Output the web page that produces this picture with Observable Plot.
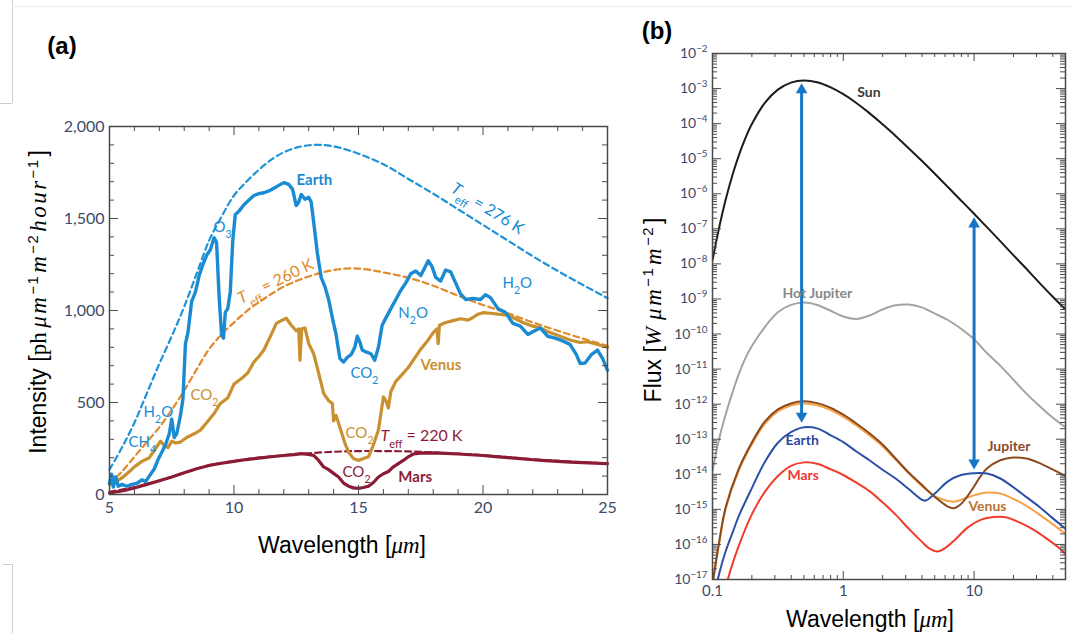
<!DOCTYPE html>
<html><head><meta charset="utf-8">
<script src="https://cdn.jsdelivr.net/npm/d3@7"></script>
<script src="https://cdn.jsdelivr.net/npm/@observablehq/plot@0.6"></script>
<style>
html,body{margin:0;padding:0;background:#fff;}
#wrap{position:relative;width:1072px;height:633px;overflow:hidden;background:#fff;font-family:"Liberation Sans",Arial,sans-serif;color:#000;}
#wrap svg{position:absolute;top:0;}
.lbl{position:absolute;white-space:nowrap;transform:translate(-50%,-50%);line-height:1;}
.m{font-family:"Liberation Serif","DejaVu Serif",serif;font-style:italic;}
.r{font-family:"Liberation Serif","DejaVu Serif",serif;}
.t .m{letter-spacing:2.5px;}
.t sup{letter-spacing:1.5px;padding-right:2px;}
.deco{position:absolute;background:#cdcdcd;}
sup{font-size:64%;vertical-align:0.55em;line-height:0;}
</style></head><body><div id="wrap"></div>
<script>
// ---------------- Panel (a) data: wavelength [µm] and intensity ----------------
const earthX = [5.0,5.08,5.15,5.25,5.35,5.5,5.7,5.9,6.1,6.3,6.45,6.6,6.8,6.95,7.1,7.25,7.4,7.5,7.6,7.7,7.85,7.95,8.05,8.15,8.3,8.45,8.6,8.75,8.9,9.05,9.2,9.3,9.4,9.5,9.58,9.65,9.75,9.85,9.95,10.05,10.2,10.4,10.6,10.8,11.0,11.2,11.4,11.6,11.8,12.0,12.2,12.35,12.5,12.6,12.7,12.85,13.0,13.1,13.2,13.35,13.5,13.65,13.8,13.95,14.1,14.25,14.4,14.55,14.7,14.85,14.95,15.05,15.15,15.3,15.5,15.65,15.8,15.95,16.1,16.3,16.5,16.7,16.9,17.1,17.3,17.5,17.65,17.8,17.95,18.1,18.3,18.5,18.7,18.9,19.1,19.3,19.6,19.9,20.1,20.3,20.6,20.9,21.2,21.5,21.8,22.0,22.3,22.6,22.9,23.2,23.5,23.75,23.9,24.1,24.35,24.6,24.8,25.0];
const earthY = [60,110,40,95,45,55,45,55,60,80,70,100,140,190,230,270,330,410,310,330,430,520,820,880,1050,1100,1190,1250,1300,1330,1395,1370,1080,870,850,990,1010,1100,1380,1520,1540,1575,1600,1625,1635,1640,1650,1665,1680,1695,1685,1660,1570,1590,1630,1605,1615,1590,1480,1310,1180,1130,1060,960,870,740,720,745,760,800,860,830,785,775,765,730,800,920,960,1010,1060,1110,1150,1200,1215,1190,1230,1270,1240,1180,1160,1220,1210,1150,1090,1060,1065,1060,1085,1070,1010,990,930,915,870,885,905,860,850,835,815,760,712,715,760,785,740,675];
const venusX = [5.0,5.2,5.5,5.8,6.0,6.3,6.6,6.85,7.05,7.2,7.35,7.5,7.65,7.85,8.1,8.4,8.65,8.9,9.2,9.45,9.75,10.0,10.3,10.55,10.8,11.0,11.2,11.5,11.7,11.9,12.1,12.3,12.5,12.6,12.65,12.72,12.85,13.0,13.2,13.4,13.6,13.8,13.95,14.0,14.1,14.3,14.45,14.6,14.8,15.0,15.2,15.4,15.6,15.8,16.0,16.1,16.2,16.3,16.5,16.8,17.0,17.2,17.5,17.8,18.0,18.15,18.2,18.25,18.5,18.8,19.1,19.4,19.6,19.8,20.0,20.3,20.6,21.0,21.3,21.6,22.0,22.3,22.7,23.1,23.5,23.9,24.2,24.6,25.0];
const venusY = [55,65,90,125,150,180,200,250,290,265,255,290,280,285,310,330,350,390,440,495,525,600,630,660,720,750,785,870,930,945,958,920,890,900,730,900,905,820,765,660,550,510,495,400,430,345,280,230,195,185,195,205,270,350,530,510,470,560,615,660,690,730,790,840,880,900,820,920,935,945,955,948,962,980,988,985,980,975,955,935,915,905,880,860,840,826,830,815,800];
const marsX = [5.0,5.3,5.6,6.0,6.5,7.0,7.5,8.0,8.5,9.0,9.5,10.0,10.5,11.0,11.5,12.0,12.4,12.7,13.0,13.2,13.4,13.6,13.8,14.0,14.2,14.4,14.6,14.8,15.0,15.2,15.4,15.6,15.8,16.0,16.2,16.4,16.6,16.8,17.0,17.2,17.5,18.0,18.5,19.0,19.5,20.0,20.5,21.0,21.5,22.0,22.5,23.0,23.5,24.0,24.5,25.0];
const marsY = [8,15,22,35,55,75,95,118,140,158,170,180,190,198,205,212,217,222,218,212,185,150,135,115,95,62,45,36,33,38,45,65,95,113,125,150,168,185,205,220,225,226,224,220,216,212,206,200,195,189,184,180,176,173,170,167];
const teff276X = [5,5.5,6,6.5,7,7.5,8,8.5,9,9.5,10,10.5,11,11.5,12,12.5,13,13.5,14,14.5,15,16,17,18,19,20,21,22,23,24,25];
const teff276Y = [135,255,390,550,710,860,1020,1200,1380,1510,1625,1700,1765,1820,1860,1885,1898,1900,1892,1875,1852,1795,1715,1635,1550,1465,1380,1295,1215,1140,1067];
const teff260X = [5,5.5,6,6.5,7,7.5,8,8.5,9,9.5,10,10.5,11,11.5,12,12.5,13,13.5,14,14.5,15,15.5,16,17,18,19,20,21,22,23,24,25];
const teff260Y = [55,125,205,285,365,460,565,680,790,870,935,995,1045,1090,1130,1160,1185,1205,1220,1228,1228,1220,1207,1178,1135,1080,1030,985,935,890,848,808];
const teff220X = [5,6,7,8,9,10,11,12,13,14,15,16,17,18,19,20,21,22,23,24,25];
const teff220Y = [15,40,75,118,158,182,200,213,224,232,236,236,234,228,222,214,203,192,183,175,170];
const aXTicks = [5,10,15,20,25];
const aYTicks = [0,500,1000,1500,2000];
// annotation labels (text, wavelength, intensity)
const aLabText = ["O_{3}","H_{2}O","CH_{4}","N_{2}O","CO_{2}","H_{2}O"];
const aLabX = [9.18,6.37,5.76,16.6,14.68,20.78];
const aLabY = [1451,446,283,984,658,1147];
const vLabText = ["CO_{2}","CO_{2}"];
const vLabX = [8.25,14.48];
const vLabY = [538,332];

// ---------------- Panel (b) data: log10 wavelength and log10 flux ----------------
const sunL = [-1.0,-0.95,-0.9,-0.85,-0.8,-0.75,-0.7,-0.6,-0.5,-0.4,-0.3,-0.2,-0.1,0,0.1,0.2,0.3,0.4,0.5,0.6,0.7,0.8,0.9,1.0,1.1,1.2,1.3,1.4,1.5,1.6,1.699];
const sunF = [-7.90,-6.98,-6.18,-5.50,-4.92,-4.43,-4.02,-3.41,-3.03,-2.83,-2.77,-2.82,-2.96,-3.16,-3.41,-3.70,-4.02,-4.35,-4.70,-5.06,-5.43,-5.81,-6.19,-6.57,-6.96,-7.35,-7.75,-8.14,-8.54,-8.93,-9.30];
const hotL = [-1.0,-0.95,-0.9,-0.85,-0.8,-0.75,-0.7,-0.6,-0.5,-0.4,-0.3,-0.2,-0.1,0,0.1,0.2,0.3,0.4,0.5,0.6,0.7,0.8,0.9,1.0,1.1,1.2,1.3,1.4,1.5,1.6,1.699];
const hotF = [-13.9,-13.0,-12.3,-11.7,-11.15,-10.7,-10.35,-9.8,-9.38,-9.17,-9.1,-9.17,-9.33,-9.5,-9.57,-9.47,-9.3,-9.18,-9.16,-9.24,-9.42,-9.6,-9.85,-10.15,-10.55,-10.9,-11.3,-11.7,-12.05,-12.38,-12.66];
const jupL = [-1.0,-0.95,-0.9,-0.8,-0.7,-0.6,-0.5,-0.4,-0.3,-0.2,-0.1,0,0.1,0.2,0.3,0.4,0.5,0.6,0.7,0.76,0.8,0.845,0.9,0.95,1.0,1.05,1.1,1.2,1.3,1.4,1.5,1.6,1.699];
const jupF = [-17.1,-15.95,-14.95,-13.85,-13.1,-12.5,-12.15,-11.98,-11.92,-11.97,-12.1,-12.3,-12.55,-12.83,-13.15,-13.55,-13.95,-14.3,-14.65,-14.82,-14.92,-14.97,-14.85,-14.62,-14.35,-14.05,-13.83,-13.6,-13.52,-13.55,-13.68,-13.86,-14.05];
const venL = jupL;
const venF = [-17.2,-16.0,-15.0,-13.9,-13.15,-12.56,-12.21,-12.04,-11.98,-12.03,-12.16,-12.36,-12.61,-12.89,-13.2,-13.58,-13.97,-14.33,-14.62,-14.72,-14.76,-14.78,-14.73,-14.66,-14.6,-14.55,-14.52,-14.55,-14.7,-14.9,-15.15,-15.42,-15.7];
const earL = [-0.97,-0.95,-0.9,-0.84,-0.8,-0.7,-0.6,-0.5,-0.4,-0.3,-0.2,-0.1,0,0.1,0.2,0.3,0.4,0.5,0.6,0.63,0.7,0.8,0.9,1.0,1.1,1.2,1.3,1.4,1.5,1.6,1.699];
const earF = [-17.2,-16.85,-16.2,-15.6,-15.2,-14.4,-13.65,-13.1,-12.8,-12.66,-12.69,-12.88,-13.08,-13.35,-13.6,-13.87,-14.12,-14.42,-14.72,-14.75,-14.55,-14.2,-14.02,-13.97,-13.98,-14.12,-14.37,-14.65,-14.93,-15.25,-15.55];
const marL = [-0.9,-0.885,-0.8,-0.7,-0.6,-0.5,-0.4,-0.3,-0.2,-0.1,0,0.1,0.2,0.3,0.4,0.5,0.6,0.66,0.72,0.78,0.85,0.95,1.05,1.15,1.25,1.35,1.45,1.55,1.65,1.699];
const marF = [-17.3,-17.03,-16.05,-15.15,-14.5,-14.05,-13.76,-13.66,-13.7,-13.85,-14.02,-14.24,-14.48,-14.8,-15.15,-15.55,-15.92,-16.12,-16.2,-16.1,-15.88,-15.52,-15.3,-15.22,-15.23,-15.38,-15.57,-15.82,-16.1,-16.28];
const arrowX = [0.48, 10];
const arrowTop = [1.4e-3, 2.1e-7];
const arrowBottom = [3.0e-13, 1.38e-14];
const bXTicks = [0.1, 1, 10, 50];
const bYExp = [-17,-16,-15,-14,-13,-12,-11,-10,-9,-8,-7,-6,-5,-4,-3,-2];
const bLabText = ["Sun","Hot Jupiter","Earth","Mars","Jupiter","Venus"];
const bLabX = [1.28,0.343,0.361,0.374,12.66,9.06];
const bLabLogY = [-3.11,-8.84,-13.03,-14.03,-13.21,-14.92];

// ---------------- helpers ----------------
const ser = (xs, ys) => xs.map((x, i) => ({x, y: ys[i]}));
const serLog = (ls, fs) => ls.map((l, i) => ({x: 10 ** l, y: 10 ** fs[i]}));
const tickCol = "#3e4a68";
const frameCol = "#4a4a4a";

function esc(s){return s.replace(/&/g,"&amp;").replace(/</g,"&lt;");}
function toTspans(s){
  const re = /([_^])\{([^}]*)\}|\*([^*]*)\*/g; let out = "", last = 0, m;
  while ((m = re.exec(s))) {
    out += esc(s.slice(last, m.index));
    if (m[3] !== undefined) out += `<tspan font-style="italic">${esc(m[3])}</tspan>`;
    else out += `<tspan baseline-shift="${m[1] === "_" ? "sub" : "super"}" font-size="70%">${esc(m[2])}</tspan>`;
    last = re.lastIndex;
  }
  return out + esc(s.slice(last));
}
function richify(svg){
  svg.querySelectorAll("text").forEach(t => {
    const els = t.querySelector("tspan") ? Array.from(t.querySelectorAll("tspan")) : [t];
    els.forEach(el => { const s = el.textContent; if (/[_^]\{|\*/.test(s)) el.innerHTML = toTspans(s); });
  });
}
function inTicksX(vals, len, H){
  return [Plot.ruleX(vals, {x: d => d, insetTop: H - len, stroke: frameCol, strokeWidth: 1}),
          Plot.ruleX(vals, {x: d => d, insetBottom: H - len, stroke: frameCol, strokeWidth: 1})];
}
function inTicksY(vals, len, W){
  return [Plot.ruleY(vals, {y: d => d, insetRight: W - len, stroke: frameCol, strokeWidth: 1}),
          Plot.ruleY(vals, {y: d => d, insetLeft: W - len, stroke: frameCol, strokeWidth: 1})];
}

// ---------------- Panel (a) ----------------
const cEarth = "#1a8bd2", cEarthD = "#1e93d8", cVenus = "#c8902e", cVenusD = "#e08a2c", cMars = "#8c1c36";
const WA = 498, HA = 368;
const minorXA = d3.range(6, 25).filter(v => v % 5 !== 0);
const majorXA = [10, 15, 20];
const minorYA = d3.range(100, 2000, 100).filter(v => v % 500 !== 0);
const majorYA = [500, 1000, 1500];
const font = "Lato, 'Noto Sans', 'DejaVu Sans', sans-serif";

const plotA = Plot.plot({
  width: 630, height: 633,
  marginLeft: 109, marginRight: 23, marginTop: 126, marginBottom: 139,
  x: {domain: [5, 25], label: null},
  y: {domain: [0, 2000], label: null},
  style: {fontFamily: font, background: "transparent", overflow: "visible"},
  marks: [
    Plot.line(ser(teff276X, teff276Y), {x: "x", y: "y", stroke: cEarthD, strokeWidth: 2.2, strokeDasharray: "6,4", curve: "catmull-rom"}),
    Plot.line(ser(teff260X, teff260Y), {x: "x", y: "y", stroke: cVenusD, strokeWidth: 2.2, strokeDasharray: "6,4", curve: "catmull-rom"}),
    Plot.line(ser(teff220X, teff220Y), {x: "x", y: "y", stroke: cMars, strokeWidth: 2.2, strokeDasharray: "6,4", curve: "catmull-rom"}),
    Plot.line(ser(marsX, marsY), {x: "x", y: "y", stroke: cMars, strokeWidth: 3.2, curve: "linear"}),
    Plot.line(ser(venusX, venusY), {x: "x", y: "y", stroke: cVenus, strokeWidth: 3.2, curve: "linear"}),
    Plot.line(ser(earthX, earthY), {x: "x", y: "y", stroke: cEarth, strokeWidth: 3.4, curve: "linear"}),
    ...inTicksX(minorXA, 5, HA), ...inTicksX(majorXA, 9, HA),
    ...inTicksY(minorYA, 5, WA), ...inTicksY(majorYA, 9, WA),
    Plot.frame({stroke: frameCol, strokeWidth: 1.5}),
    Plot.axisX({ticks: aXTicks, tickSize: 0, tickPadding: 7, fontSize: 16, color: tickCol, tickFormat: d => String(d), label: null}),
    Plot.axisY({ticks: aYTicks, tickSize: 0, tickPadding: 5, fontSize: 16, color: tickCol, tickFormat: d3.format(","), label: null}),
    Plot.text(ser(aLabX, aLabY), {x: "x", y: "y", text: (d, i) => aLabText[i], textAnchor: "start", fill: cEarth, fontSize: 15}),
    Plot.text(ser(vLabX, vLabY), {x: "x", y: "y", text: (d, i) => vLabText[i], textAnchor: "start", fill: cVenus, fontSize: 15}),
    Plot.text([{x: 14.36, y: 120}], {x: "x", y: "y", text: () => "CO_{2}", textAnchor: "start", fill: cMars, fontSize: 15}),
    Plot.text([{x: 12.51, y: 1707}], {x: "x", y: "y", text: () => "Earth", textAnchor: "start", fill: cEarth, fontSize: 15, fontWeight: "bold"}),
    Plot.text([{x: 17.49, y: 701}], {x: "x", y: "y", text: () => "Venus", textAnchor: "start", fill: cVenus, fontSize: 15, fontWeight: "bold"}),
    Plot.text([{x: 16.6, y: 92}], {x: "x", y: "y", text: () => "Mars", textAnchor: "start", fill: cMars, fontSize: 15, fontWeight: "bold"}),
    Plot.text([{x: 20.18, y: 1554}], {x: "x", y: "y", text: () => "*T*_{eff} = 276 K", fill: cEarth, fontSize: 16, rotate: 32}),
    Plot.text([{x: 11.67, y: 1158}], {x: "x", y: "y", text: () => "*T*_{eff} = 260 K", fill: cVenusD, fontSize: 16, rotate: -26}),
    Plot.text([{x: 15.88, y: 321}], {x: "x", y: "y", text: () => "*T*_{eff} = 220 K", textAnchor: "start", fill: cMars, fontSize: 16})
  ]
});
plotA.style.left = "0px";
richify(plotA);

// ---------------- Panel (b) ----------------
const WB = 353, HB = 526;
const minorXB = [0.2,0.3,0.4,0.5,0.6,0.7,0.8,0.9,2,3,4,5,6,7,8,9,20,30,40];
const majorXB = [1, 10];
const majorYB = bYExp.map(e => 10 ** e);
const minorYB = d3.range(-17, -2).flatMap(e => d3.range(2, 10).map(m => m * 10 ** e));
const cSun = "#1c1c1c", cHot = "#a3a3a3", cJup = "#8a4a1e", cVen = "#f7a249", cEar = "#2c50a8", cMar = "#f23b2c", cArr = "#1775c6";

const plotB = Plot.plot({
  width: 442, height: 633,
  marginLeft: 82, marginRight: 7, marginTop: 53, marginBottom: 54,
  x: {type: "log", domain: [0.1, 50], label: null},
  y: {type: "log", domain: [1e-17, 1e-2], label: null},
  style: {fontFamily: font, background: "transparent", overflow: "visible"},
  marks: [
    Plot.line(serLog(hotL, hotF), {x: "x", y: "y", stroke: cHot, strokeWidth: 2, curve: "catmull-rom", clip: true}),
    Plot.line(serLog(sunL, sunF), {x: "x", y: "y", stroke: cSun, strokeWidth: 2, curve: "catmull-rom", clip: true}),
    Plot.line(serLog(venL, venF), {x: "x", y: "y", stroke: cVen, strokeWidth: 2, curve: "catmull-rom", clip: true}),
    Plot.line(serLog(jupL, jupF), {x: "x", y: "y", stroke: cJup, strokeWidth: 2, curve: "catmull-rom", clip: true}),
    Plot.line(serLog(earL, earF), {x: "x", y: "y", stroke: cEar, strokeWidth: 2, curve: "catmull-rom", clip: true}),
    Plot.line(serLog(marL, marF), {x: "x", y: "y", stroke: cMar, strokeWidth: 2, curve: "catmull-rom", clip: true}),
    Plot.ruleX(arrowX.map((x, i) => ({x, t: arrowTop[i], b: arrowBottom[i]})), {x: "x", y1: "t", y2: "b", stroke: cArr, strokeWidth: 3, insetTop: 5, insetBottom: 5}),
    Plot.dot(arrowX.map((x, i) => ({x, y: arrowTop[i]})), {x: "x", y: "y", symbol: "triangle", r: 4.3, fill: cArr, stroke: "none", dy: 6.5}),
    Plot.dot(arrowX.map((x, i) => ({x, y: arrowBottom[i]})), {x: "x", y: "y", symbol: "triangle", r: 4.3, fill: cArr, stroke: "none", rotate: 180, dy: -6.5}),
    ...inTicksX(minorXB, 4, HB), ...inTicksX(majorXB, 8, HB),
    ...inTicksY(minorYB, 5, WB), ...inTicksY(majorYB, 9, WB),
    Plot.frame({stroke: frameCol, strokeWidth: 1.5}),
    Plot.axisX({ticks: bXTicks, tickSize: 0, tickPadding: 6, fontSize: 15, color: tickCol, tickFormat: d => String(d), label: null}),
    Plot.axisY({ticks: majorYB, tickSize: 0, tickPadding: 5, fontSize: 14, color: tickCol, tickFormat: d => `10^{−${-Math.round(Math.log10(d))}}`, label: null}),
    Plot.text(bLabX.map((x, i) => ({x, y: 10 ** bLabLogY[i], t: bLabText[i]})), {x: "x", y: "y", text: "t", textAnchor: "start", fontSize: 14, fontWeight: "bold",
      fill: d => ({"Sun": "#3a3a3a", "Hot Jupiter": "#888888", "Earth": "#2c48a0", "Mars": "#ee3a3a", "Jupiter": "#8c4a2c", "Venus": "#bb7433"})[d.t]})
  ]
});
plotB.style.left = "630px";
richify(plotB);

// ---------------- assemble ----------------
const wrap = document.getElementById("wrap");
wrap.appendChild(plotA);
wrap.appendChild(plotB);
const over = document.createElement("div");
over.innerHTML = `
<div class="deco" style="left:12px;top:0;width:1px;height:103px"></div>
<div class="deco" style="left:0;top:103px;width:12px;height:1px"></div>
<div class="deco" style="left:12px;top:6px;width:1060px;height:1px;background:#ececec"></div>
<div class="deco" style="left:3px;top:564px;width:9px;height:1px"></div>
<div class="deco" style="left:12px;top:564px;width:1px;height:69px"></div>
<div class="lbl" style="left:62px;top:46px;font-size:24px;font-weight:bold">(a)</div>
<div class="lbl" style="left:657px;top:31px;font-size:24px;font-weight:bold">(b)</div>
<div class="lbl" style="left:342px;top:545px;font-size:23px">Wavelength [<span class="m">μm</span>]</div>
<div class="lbl" style="left:870px;top:619px;font-size:23px">Wavelength [<span class="m">μm</span>]</div>
<div class="lbl t" style="left:38px;top:302px;font-size:23px;transform:translate(-50%,-50%) rotate(-90deg)">Intensity [<span class="r">ph</span>&#8201;<span class="m">μm</span><sup>−1</sup><span class="m">m</span><sup>−2</sup><span class="m">hour</span><sup>−1</sup>]</div>
<div class="lbl t" style="left:653px;top:310px;font-size:23px;transform:translate(-50%,-50%) rotate(-90deg)">Flux [<span class="m">W</span>&#8201;<span class="m">μm</span><sup>−1</sup><span class="m">m</span><sup>−2</sup>]</div>`;
wrap.appendChild(over);
</script></body></html>
